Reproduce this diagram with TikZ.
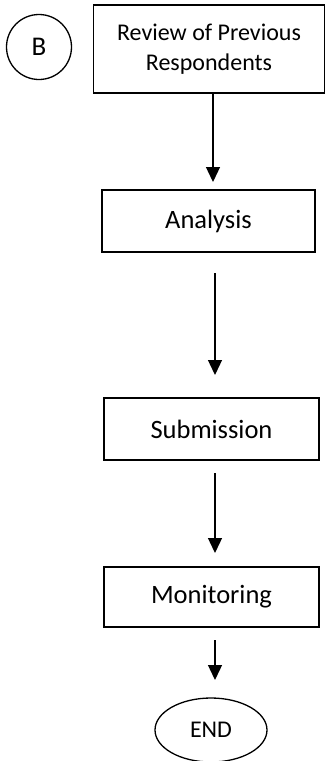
\documentclass[tikz,border=0pt]{standalone}
\usepackage{fontspec}
\setmainfont{Carlito}
\usetikzlibrary{arrows.meta,shapes.geometric}

\begin{document}
\begin{tikzpicture}[x=1pt,y=1pt,inner sep=0pt,outer sep=0pt,
	font=\fontsize{26.5}{32}\selectfont,
	stepbox/.style={draw,line width=1.4pt,minimum height=62pt,align=center},
	flow/.style={line width=1.3pt,-{Triangle[width=14pt,length=15pt]}}]
	\useasboundingbox (0,0) rectangle (326,-761);
	% start connector and boxes
	\node[draw,circle,line width=1.3pt,minimum size=65pt,font=\fontsize{27}{32}\selectfont] (b) at (39,-47) {B};
	\node[stepbox,minimum width=231pt,minimum height=88pt,font=\fontsize{24}{30}\selectfont] (review) at (209,-49) {Review of Previous\\Respondents};
	\node[stepbox,minimum width=213pt] (analysis) at (208.5,-221) {Analysis};
	\node[stepbox,minimum width=215pt] (submission) at (211.5,-429) {Submission};
	\node[stepbox,minimum width=215pt,minimum height=60pt] (monitoring) at (211.5,-597) {Monitoring};
	\node[draw,ellipse,line width=1.3pt,minimum width=112pt,minimum height=64pt,font=\fontsize{24}{28}\selectfont] (end) at (211,-730) {END};
	% arrows
	\draw[flow] ([xshift=4pt]review.south) -- ([xshift=4.5pt,yshift=8pt]analysis.north);
	\draw[flow] ([xshift=6.5pt,yshift=-21pt]analysis.south) -- ([xshift=3.5pt,yshift=23pt]submission.north);
	\draw[flow] ([xshift=3.5pt,yshift=-13pt]submission.south) -- ([xshift=3.5pt,yshift=14pt]monitoring.north);
	\draw[flow] ([xshift=3.5pt,yshift=-13pt]monitoring.south) -- ([xshift=4pt,yshift=18pt]end.north);
\end{tikzpicture}
\end{document}
